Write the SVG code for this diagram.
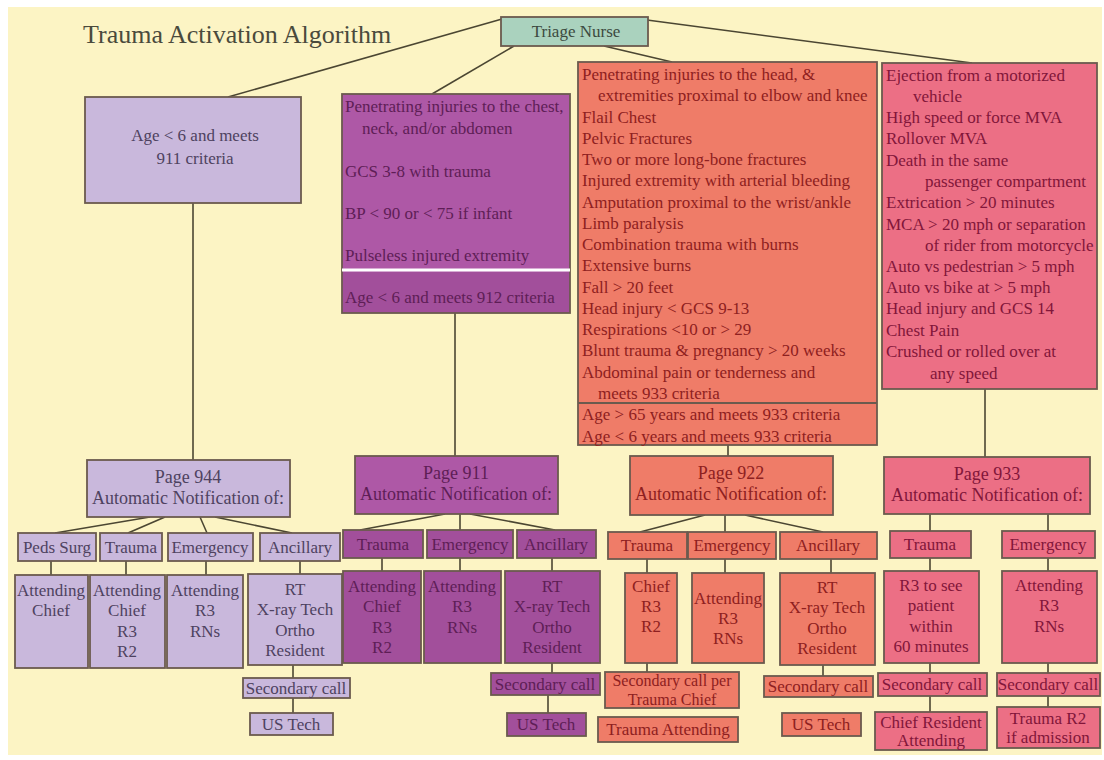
<svg xmlns="http://www.w3.org/2000/svg" width="1104" height="760" viewBox="0 0 1104 760">
<style>
.ln{stroke:#4b4632;stroke-width:1.6;fill:none}
.bx{stroke:#6b5a4e;stroke-width:1.8}
.lav{fill:#c9b8dc}
.pur{fill:#ae58a6}
.purd{fill:#a24f9b}
.sal{fill:#ef7c68}
.pnk{fill:#ec6f85}
.tri{fill:#aad2be}
text{font-family:"Liberation Serif","Times New Roman",serif}
.c{text-anchor:middle}
.s16{font-size:16px}
.s17{font-size:17px}
.s18{font-size:18px}
.tl{fill:#4e4260}
.tp{fill:#5e1e56}
.ts{fill:#8e2020}
.tk{fill:#82163a}
</style>
<rect x="0" y="0" width="1104" height="760" fill="#ffffff"/>
<rect x="8" y="7" width="1094" height="748" fill="#fcf4c4"/>
<text x="83" y="43" style="font-size:26px;fill:#4a4a3c">Trauma Activation Algorithm</text>

<g id="connectors">
<line class="ln" x1="502" y1="19" x2="228" y2="97"/>
<line class="ln" x1="514" y1="46" x2="432" y2="94"/>
<line class="ln" x1="604" y1="46" x2="672" y2="62"/>
<line class="ln" x1="647" y1="20" x2="972" y2="63"/>
<line class="ln" x1="193" y1="203" x2="193" y2="460"/>
<line class="ln" x1="455" y1="313" x2="455" y2="456"/>
<line class="ln" x1="728" y1="445" x2="728" y2="456"/>
<line class="ln" x1="985" y1="389" x2="985" y2="457"/>
<line class="ln" x1="150" y1="517" x2="55" y2="533"/>
<line class="ln" x1="165" y1="517" x2="128" y2="533"/>
<line class="ln" x1="200" y1="517" x2="207" y2="533"/>
<line class="ln" x1="215" y1="517" x2="292" y2="533"/>
<line class="ln" x1="51" y1="561" x2="51" y2="575"/>
<line class="ln" x1="126" y1="561" x2="126" y2="575"/>
<line class="ln" x1="206" y1="561" x2="206" y2="575"/>
<line class="ln" x1="300" y1="561" x2="300" y2="574"/>
<line class="ln" x1="293" y1="665" x2="293" y2="678"/>
<line class="ln" x1="293" y1="698" x2="293" y2="713"/>
<line class="ln" x1="445" y1="514" x2="360" y2="530"/>
<line class="ln" x1="460" y1="514" x2="460" y2="530"/>
<line class="ln" x1="470" y1="514" x2="555" y2="530"/>
<line class="ln" x1="382" y1="558" x2="382" y2="571"/>
<line class="ln" x1="460" y1="558" x2="460" y2="571"/>
<line class="ln" x1="552" y1="558" x2="552" y2="571"/>
<line class="ln" x1="552" y1="663" x2="552" y2="673"/>
<line class="ln" x1="548" y1="695" x2="548" y2="713"/>
<line class="ln" x1="705" y1="515" x2="640" y2="532"/>
<line class="ln" x1="725" y1="515" x2="725" y2="532"/>
<line class="ln" x1="745" y1="515" x2="823" y2="532"/>
<line class="ln" x1="647" y1="559" x2="647" y2="573"/>
<line class="ln" x1="725" y1="559" x2="725" y2="573"/>
<line class="ln" x1="831" y1="559" x2="831" y2="573"/>
<line class="ln" x1="647" y1="663" x2="647" y2="672"/>
<line class="ln" x1="823" y1="665" x2="823" y2="676"/>
<line class="ln" x1="930" y1="514" x2="930" y2="531"/>
<line class="ln" x1="1048" y1="514" x2="1048" y2="531"/>
<line class="ln" x1="930" y1="558" x2="930" y2="571"/>
<line class="ln" x1="1048" y1="558" x2="1048" y2="571"/>
<line class="ln" x1="930" y1="663" x2="930" y2="673"/>
<line class="ln" x1="1048" y1="663" x2="1048" y2="673"/>
<line class="ln" x1="930" y1="696" x2="930" y2="712"/>
<line class="ln" x1="1048" y1="696" x2="1048" y2="707"/>
</g>

<g id="triage">
<rect class="bx tri" x="501" y="17" width="147" height="29"/>
<text class="c s17" x="576" y="37" fill="#3c4a40">Triage Nurse</text>
</g>

<g id="age911">
<rect class="bx lav" x="85" y="97" width="216" height="106"/>
<text class="c s17 tl" x="195" y="141">Age &lt; 6 and meets</text>
<text class="c s17 tl" x="195" y="164">911 criteria</text>
</g>

<g id="crit911">
<rect class="bx pur" x="342" y="94" width="228" height="219"/>
<rect class="purd" x="343" y="272" width="226" height="40"/>
<line x1="342" y1="270" x2="570" y2="270" stroke="#ffffff" stroke-width="3"/>
<text class="s17 tp" x="345" y="112">Penetrating injuries to the chest,</text>
<text class="s17 tp" x="362" y="134">neck, and/or  abdomen</text>
<text class="s17 tp" x="345" y="177">GCS 3-8 with trauma</text>
<text class="s17 tp" x="345" y="219">BP &lt; 90 or &lt; 75 if infant</text>
<text class="s17 tp" x="345" y="261">Pulseless injured extremity</text>
<text class="s17 tp" x="345" y="303">Age &lt; 6 and meets 912 criteria</text>
</g>

<g id="crit922">
<rect class="bx sal" x="578" y="62" width="299" height="383"/>
<line x1="578" y1="403" x2="877" y2="403" stroke="#6b5a4e" stroke-width="1.8"/>
<text class="s17 ts" x="582" y="80">Penetrating injuries to the head,  &amp;</text>
<text class="s17 ts" x="598" y="101">extremities proximal to elbow and knee</text>
<text class="s17 ts" x="582" y="123">Flail Chest</text>
<text class="s17 ts" x="582" y="144">Pelvic Fractures</text>
<text class="s17 ts" x="582" y="165">Two or more long-bone fractures</text>
<text class="s17 ts" x="582" y="186">Injured extremity with arterial bleeding</text>
<text class="s17 ts" x="582" y="208">Amputation proximal to the wrist/ankle</text>
<text class="s17 ts" x="582" y="229">Limb paralysis</text>
<text class="s17 ts" x="582" y="250">Combination trauma with burns</text>
<text class="s17 ts" x="582" y="271">Extensive burns</text>
<text class="s17 ts" x="582" y="293">Fall &gt; 20 feet</text>
<text class="s17 ts" x="582" y="314">Head injury &lt; GCS 9-13</text>
<text class="s17 ts" x="582" y="335">Respirations &lt;10 or &gt; 29</text>
<text class="s17 ts" x="582" y="356">Blunt trauma &amp; pregnancy &gt;  20 weeks</text>
<text class="s17 ts" x="582" y="378">Abdominal pain or tenderness and</text>
<text class="s17 ts" x="598" y="399">meets 933 criteria</text>
<text class="s17 ts" x="582" y="420">Age &gt; 65 years and meets 933 criteria</text>
<text class="s17 ts" x="582" y="442">Age &lt; 6 years and meets 933 criteria</text>
</g>

<g id="crit933">
<rect class="bx pnk" x="882" y="63" width="215" height="326"/>
<text class="s17 tk" x="886" y="81">Ejection from a motorized</text>
<text class="s17 tk" x="913" y="102">vehicle</text>
<text class="s17 tk" x="886" y="123">High speed or force MVA</text>
<text class="s17 tk" x="886" y="144">Rollover MVA</text>
<text class="s17 tk" x="886" y="166">Death in the same</text>
<text class="s17 tk" x="925" y="187">passenger compartment</text>
<text class="s17 tk" x="886" y="208">Extrication &gt; 20 minutes</text>
<text class="s17 tk" x="886" y="230">MCA &gt; 20 mph or separation</text>
<text class="s17 tk" x="925" y="251">of rider from motorcycle</text>
<text class="s17 tk" x="886" y="272">Auto vs pedestrian &gt; 5 mph</text>
<text class="s17 tk" x="886" y="293">Auto vs bike at &gt; 5 mph</text>
<text class="s17 tk" x="886" y="314">Head injury and GCS 14</text>
<text class="s17 tk" x="886" y="336">Chest Pain</text>
<text class="s17 tk" x="886" y="357">Crushed or rolled over at</text>
<text class="s17 tk" x="930" y="379">any  speed</text>
</g>

<g id="page944">
<rect class="bx lav" x="87" y="460" width="203" height="57"/>
<text class="c s18 tl" x="188" y="483">Page 944</text>
<text class="c s18 tl" x="188" y="504">Automatic Notification of:</text>
</g>
<g id="page911">
<rect class="bx pur" x="355" y="456" width="203" height="58"/>
<text class="c s18 tp" x="456" y="479">Page 911</text>
<text class="c s18 tp" x="456" y="500">Automatic Notification of:</text>
</g>
<g id="page922">
<rect class="bx sal" x="630" y="456" width="203" height="59"/>
<text class="c s18 ts" x="731" y="479">Page 922</text>
<text class="c s18 ts" x="731" y="500">Automatic Notification of:</text>
</g>
<g id="page933">
<rect class="bx pnk" x="884" y="457" width="206" height="57"/>
<text class="c s18 tk" x="987" y="480">Page 933</text>
<text class="c s18 tk" x="987" y="501">Automatic Notification of:</text>
</g>

<g id="l-peds"><rect class="bx lav" x="18" y="533" width="78" height="28"/><text class="c s17 tl" x="57" y="553">Peds Surg</text></g>
<g id="l-trauma"><rect class="bx lav" x="100" y="533" width="62" height="28"/><text class="c s17 tl" x="131" y="553">Trauma</text></g>
<g id="l-emerg"><rect class="bx lav" x="168" y="533" width="85" height="28"/><text class="c s17 tl" x="210" y="553">Emergency</text></g>
<g id="l-anc"><rect class="bx lav" x="260" y="533" width="80" height="28"/><text class="c s17 tl" x="300" y="553">Ancillary</text></g>
<g id="l-d1"><rect class="bx lav" x="15" y="575" width="73" height="93"/><text class="c s17 tl" x="51" y="596">Attending</text><text class="c s17 tl" x="51" y="616">Chief</text></g>
<g id="l-d2"><rect class="bx lav" x="90" y="575" width="75" height="93"/><text class="c s17 tl" x="127" y="596">Attending</text><text class="c s17 tl" x="127" y="616">Chief</text><text class="c s17 tl" x="127" y="637">R3</text><text class="c s17 tl" x="127" y="657">R2</text></g>
<g id="l-d3"><rect class="bx lav" x="167" y="575" width="76" height="93"/><text class="c s17 tl" x="205" y="596">Attending</text><text class="c s17 tl" x="205" y="616">R3</text><text class="c s17 tl" x="205" y="637">RNs</text></g>
<g id="l-d4"><rect class="bx lav" x="248" y="574" width="94" height="91"/><text class="c s17 tl" x="295" y="595">RT</text><text class="c s17 tl" x="295" y="615">X-ray Tech</text><text class="c s17 tl" x="295" y="636">Ortho</text><text class="c s17 tl" x="295" y="656">Resident</text></g>
<g id="l-sec"><rect class="bx lav" x="243" y="678" width="107" height="20"/><text class="c s17 tl" x="296" y="694">Secondary call</text></g>
<g id="l-us"><rect class="bx lav" x="250" y="713" width="83" height="22"/><text class="c s17 tl" x="291" y="730">US Tech</text></g>

<g id="p-trauma"><rect class="bx purd" x="343" y="530" width="80" height="28"/><text class="c s17 tp" x="383" y="550">Trauma</text></g>
<g id="p-emerg"><rect class="bx purd" x="427" y="530" width="86" height="28"/><text class="c s17 tp" x="470" y="550">Emergency</text></g>
<g id="p-anc"><rect class="bx purd" x="517" y="530" width="79" height="28"/><text class="c s17 tp" x="556" y="550">Ancillary</text></g>
<g id="p-d1"><rect class="bx purd" x="343" y="571" width="78" height="92"/><text class="c s17 tp" x="382" y="592">Attending</text><text class="c s17 tp" x="382" y="612">Chief</text><text class="c s17 tp" x="382" y="633">R3</text><text class="c s17 tp" x="382" y="653">R2</text></g>
<g id="p-d2"><rect class="bx purd" x="424" y="571" width="77" height="92"/><text class="c s17 tp" x="462" y="592">Attending</text><text class="c s17 tp" x="462" y="612">R3</text><text class="c s17 tp" x="462" y="633">RNs</text></g>
<g id="p-d3"><rect class="bx purd" x="505" y="571" width="95" height="92"/><text class="c s17 tp" x="552" y="592">RT</text><text class="c s17 tp" x="552" y="612">X-ray Tech</text><text class="c s17 tp" x="552" y="633">Ortho</text><text class="c s17 tp" x="552" y="653">Resident</text></g>
<g id="p-sec"><rect class="bx purd" x="491" y="673" width="109" height="22"/><text class="c s17 tp" x="545" y="690">Secondary call</text></g>
<g id="p-us"><rect class="bx purd" x="507" y="713" width="79" height="23"/><text class="c s17 tp" x="546" y="730">US Tech</text></g>

<g id="s-trauma"><rect class="bx sal" x="608" y="532" width="79" height="27"/><text class="c s17 ts" x="647" y="551">Trauma</text></g>
<g id="s-emerg"><rect class="bx sal" x="688" y="532" width="88" height="27"/><text class="c s17 ts" x="732" y="551">Emergency</text></g>
<g id="s-anc"><rect class="bx sal" x="780" y="532" width="97" height="27"/><text class="c s17 ts" x="828" y="551">Ancillary</text></g>
<g id="s-d1"><rect class="bx sal" x="625" y="573" width="52" height="90"/><text class="c s17 ts" x="651" y="592">Chief</text><text class="c s17 ts" x="651" y="612">R3</text><text class="c s17 ts" x="651" y="632">R2</text></g>
<g id="s-d2"><rect class="bx sal" x="692" y="573" width="72" height="90"/><text class="c s17 ts" x="728" y="604">Attending</text><text class="c s17 ts" x="728" y="624">R3</text><text class="c s17 ts" x="728" y="644">RNs</text></g>
<g id="s-d3"><rect class="bx sal" x="780" y="573" width="95" height="92"/><text class="c s17 ts" x="827" y="593">RT</text><text class="c s17 ts" x="827" y="613">X-ray Tech</text><text class="c s17 ts" x="827" y="634">Ortho</text><text class="c s17 ts" x="827" y="654">Resident</text></g>
<g id="s-sec1"><rect class="bx sal" x="605" y="672" width="134" height="36"/><text class="c s16 ts" x="672" y="686">Secondary call per</text><text class="c s16 ts" x="672" y="705">Trauma Chief</text></g>
<g id="s-att"><rect class="bx sal" x="598" y="717" width="140" height="25"/><text class="c s17 ts" x="668" y="735">Trauma Attending</text></g>
<g id="s-sec2"><rect class="bx sal" x="764" y="676" width="109" height="21"/><text class="c s17 ts" x="818" y="692">Secondary call</text></g>
<g id="s-us"><rect class="bx sal" x="782" y="713" width="79" height="23"/><text class="c s17 ts" x="821" y="730">US Tech</text></g>

<g id="k-trauma"><rect class="bx pnk" x="890" y="531" width="81" height="27"/><text class="c s17 tk" x="930" y="550">Trauma</text></g>
<g id="k-emerg"><rect class="bx pnk" x="1002" y="531" width="93" height="27"/><text class="c s17 tk" x="1048" y="550">Emergency</text></g>
<g id="k-d1"><rect class="bx pnk" x="884" y="571" width="95" height="92"/><text class="c s17 tk" x="931" y="591">R3 to see</text><text class="c s17 tk" x="931" y="611">patient</text><text class="c s17 tk" x="931" y="632">within</text><text class="c s17 tk" x="931" y="652">60 minutes</text></g>
<g id="k-d2"><rect class="bx pnk" x="1002" y="571" width="95" height="92"/><text class="c s17 tk" x="1049" y="591">Attending</text><text class="c s17 tk" x="1049" y="611">R3</text><text class="c s17 tk" x="1049" y="632">RNs</text></g>
<g id="k-sec1"><rect class="bx pnk" x="878" y="673" width="109" height="23"/><text class="c s17 tk" x="932" y="690">Secondary call</text></g>
<g id="k-sec2"><rect class="bx pnk" x="997" y="673" width="103" height="23"/><text class="c s17 tk" x="1048" y="690">Secondary call</text></g>
<g id="k-chief"><rect class="bx pnk" x="875" y="712" width="112" height="38"/><text class="c s17 tk" x="931" y="728">Chief Resident</text><text class="c s17 tk" x="931" y="746">Attending</text></g>
<g id="k-r2"><rect class="bx pnk" x="997" y="707" width="103" height="41"/><text class="c s17 tk" x="1048" y="724">Trauma R2</text><text class="c s17 tk" x="1048" y="743">if admission</text></g>
</svg>
